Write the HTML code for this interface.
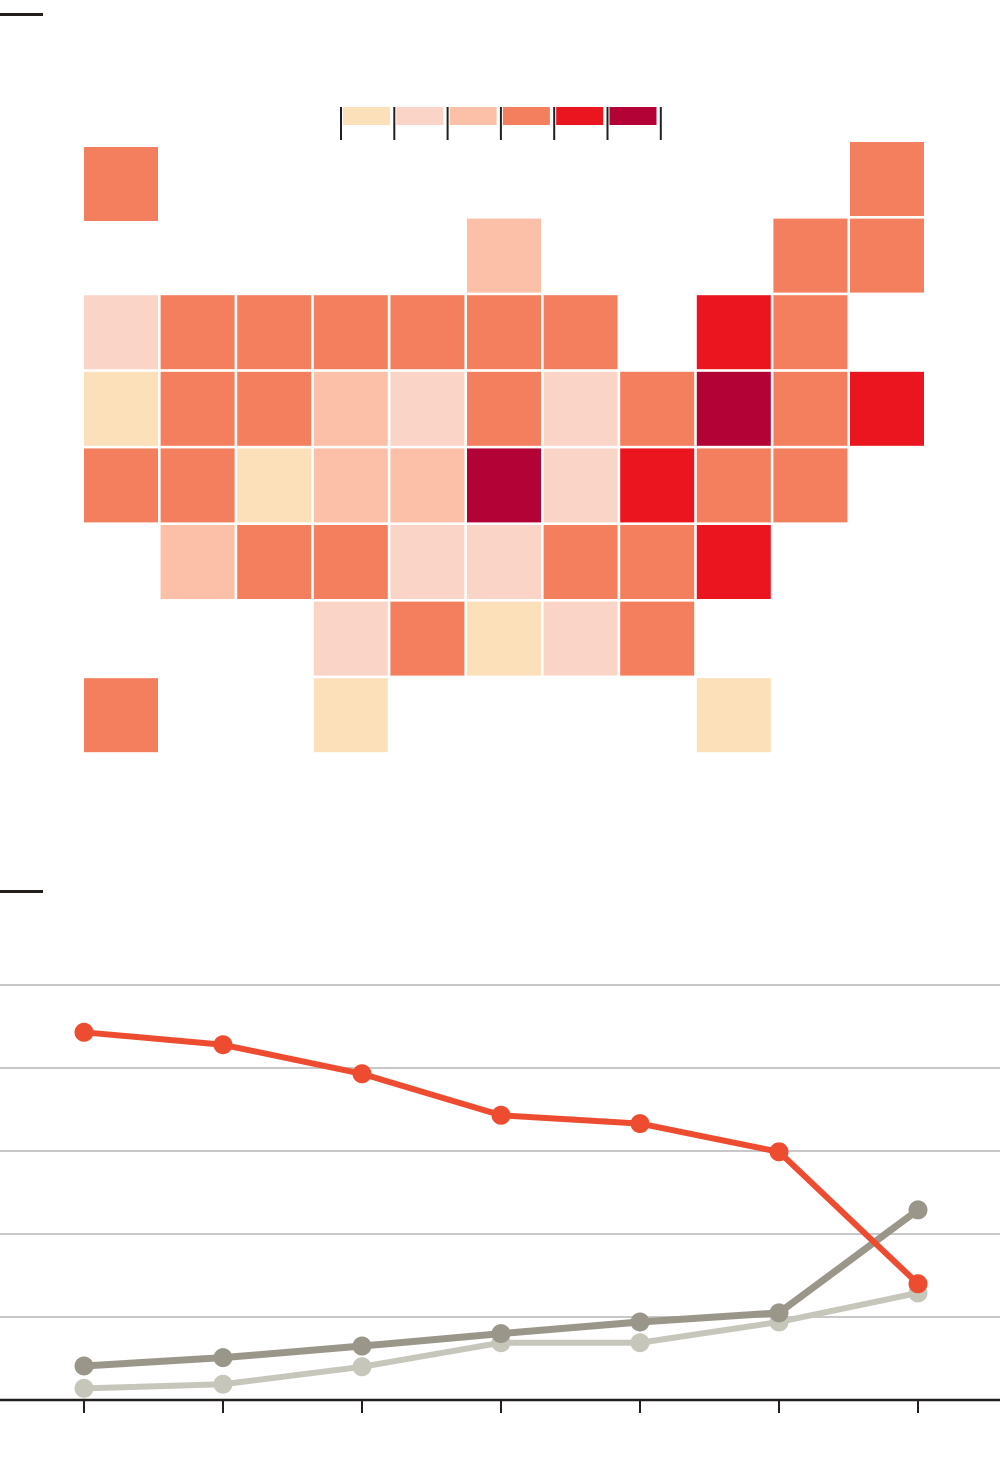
<!DOCTYPE html>
<html><head><meta charset="utf-8"><style>
html,body{margin:0;padding:0;background:#fff;}
body{width:1000px;height:1478px;position:relative;overflow:hidden;font-family:"Liberation Sans",sans-serif;}
svg{position:absolute;left:0;top:0;}
</style></head><body>
<svg id="chart" width="1000" height="1478">
<rect x="0" y="13" width="43" height="3" fill="#231f1c"/>
<rect x="0" y="890" width="43" height="3" fill="#231f1c"/>
<g id="legend"></g>
<g id="map"></g>
<g id="line"></g>
</svg>
<script>
const NS="http://www.w3.org/2000/svg";
function mk(tag,attrs,parent){const e=document.createElementNS(NS,tag);for(const k in attrs)e.setAttribute(k,attrs[k]);parent.appendChild(e);return e;}
const palette=["#fce0b9","#fbd4c8","#fcbfa8","#f47f5e","#ea151f","#b30235"];
// tiles: [row, col, level]
const tileRows=[0,0,1,1,1,2,2,2,2,2,2,2,2,2,3,3,3,3,3,3,3,3,3,3,3,4,4,4,4,4,4,4,4,4,4,5,5,5,5,5,5,5,5,6,6,6,6,6,7,7,7];
const tileCols=[0,10,5,9,10,0,1,2,3,4,5,6,8,9,0,1,2,3,4,5,6,7,8,9,10,0,1,2,3,4,5,6,7,8,9,1,2,3,4,5,6,7,8,3,4,5,6,7,0,3,8];
const tileLevels=[4,4,3,4,4,2,4,4,4,4,4,4,5,4,1,4,4,3,2,4,2,4,6,4,5,4,4,1,3,3,6,2,5,4,4,3,4,4,2,2,4,4,5,2,4,1,2,4,4,1,1];
const map=document.getElementById('map');
for(let i=0;i<tileRows.length;i++){
  const x=84+tileCols[i]*76.6, y=142+tileRows[i]*76.6+((tileRows[i]===0&&tileCols[i]===0)?5:0);
  const r=mk('rect',{x:x,y:y,width:74,height:74,fill:palette[tileLevels[i]-1]},map);
  
  
}
const legend=document.getElementById('legend');
for(let i=0;i<6;i++){
  const s=mk('rect',{x:343+i*53.3,y:107,width:47,height:18,fill:palette[i]},legend);
  
  
}
for(let i=0;i<7;i++){
  const t=mk('line',{x1:341+i*53.3,x2:341+i*53.3,y1:107,y2:140,stroke:"#231f1c","stroke-width":2},legend);
  
  
}
// line chart
const categories=[0,1,2,3,4,5,6];
const gridValues=[1,2,3,4,5];
const redSeries=[4.43,4.28,3.93,3.43,3.33,2.99,1.40];
const darkSeries=[0.41,0.51,0.65,0.80,0.94,1.05,2.29];
const lightSeries=[0.14,0.19,0.40,0.69,0.69,0.94,1.29];
const xs=i=>84+i*139;
const ys=v=>1400-v*83;
const line=document.getElementById('line');
gridValues.forEach(v=>{
  const g=mk('line',{x1:0,x2:1000,y1:ys(v),y2:ys(v),stroke:"#c8c8c8","stroke-width":2},line);
  
  
});
const ax=mk('line',{x1:0,x2:1000,y1:1400,y2:1400,stroke:"#231f1c","stroke-width":2.5},line);


categories.forEach(c=>{
  const t=mk('line',{x1:xs(c),x2:xs(c),y1:1400,y2:1413,stroke:"#231f1c","stroke-width":2},line);
  
  
});
function series(vals,color,w,name){
  const pts=vals.map((v,i)=>xs(categories[i])+","+ys(v)).join(" ");
  const p=mk('polyline',{points:pts,fill:"none",stroke:color,"stroke-width":w,"stroke-linejoin":"round"},line);
  
  
  vals.forEach((v,i)=>{
    const c=mk('circle',{cx:xs(categories[i]),cy:ys(v),r:9.5,fill:color},line);
    
    
  });
}
series(lightSeries,"#c6c6bb",6,"light-series");
series(darkSeries,"#9a978a",7,"dark-series");
series(redSeries,"#ee4c31",6,"red-series");
</script>
</body></html>
